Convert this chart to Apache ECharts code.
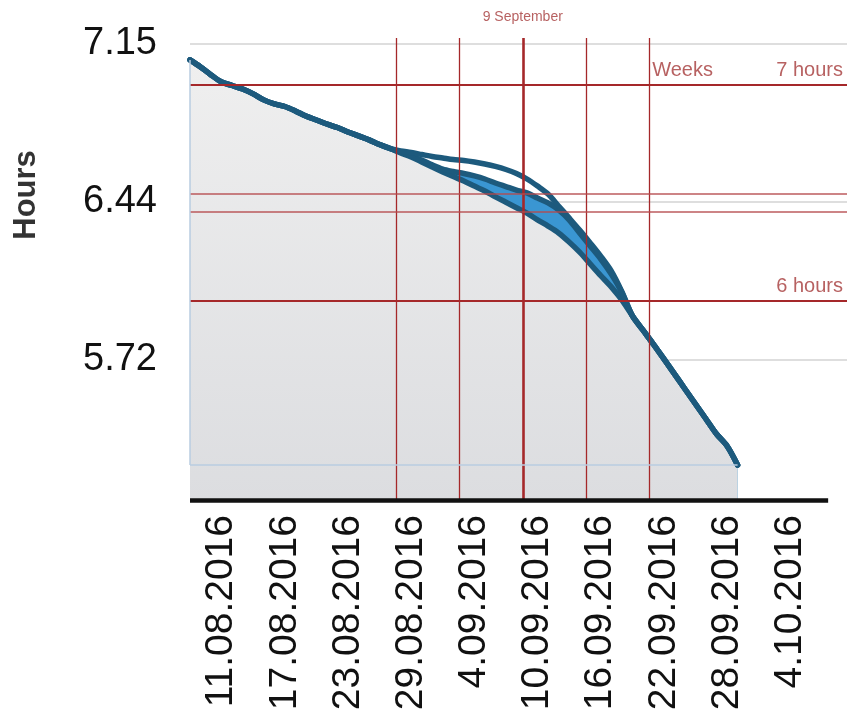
<!DOCTYPE html>
<html><head><meta charset="utf-8">
<script src="https://cdn.jsdelivr.net/npm/echarts@6/dist/echarts.min.js"></script>
<style>html,body{margin:0;padding:0;background:#fff}#c{width:847px;height:726px}</style>
</head><body><div id="c"></div>
<script>
// x values are day numbers counted from 1 Aug 2016 (day 0); data runs daily from 8.08.2016 (day 7)
const firstDay = 7;
const xTickValues = [10, 16, 22, 28, 34, 40, 46, 52, 58, 64];
const xTickLabels = ['11.08.2016','17.08.2016','23.08.2016','29.08.2016','4.09.2016','10.09.2016','16.09.2016','22.09.2016','28.09.2016','4.10.2016'];
const yTickValues = [5.72, 6.435, 7.15];
const yTickLabels = ['5.72', '6.44', '7.15'];

// days 7..26: all forecasts coincide
const sharedEarly = [7.078,7.046,7.010,6.978,6.962,6.946,6.924,6.897,6.879,6.867,6.847,6.824,6.806,6.788,6.772,6.752,6.734,6.716,6.695,6.677];
// days 27..48: forecasts diverge
const forecastA = [6.666,6.659,6.650,6.641,6.634,6.627,6.623,6.616,6.607,6.596,6.582,6.564,6.539,6.507,6.471,6.417,6.363,6.308,6.250,6.190,6.123,6.030];
const forecastB = [6.661,6.643,6.625,6.603,6.584,6.573,6.564,6.553,6.539,6.521,6.505,6.489,6.476,6.453,6.431,6.399,6.354,6.295,6.236,6.177,6.109,6.027];
const forecastD = [6.657,6.639,6.616,6.593,6.571,6.550,6.530,6.507,6.485,6.458,6.434,6.409,6.385,6.354,6.326,6.295,6.254,6.208,6.155,6.102,6.051,5.992];
// days 49..59: forecasts coincide again
const sharedLate = [5.921,5.856,5.792,5.725,5.657,5.589,5.521,5.453,5.385,5.331,5.245];

// reference lines
const weekLineDays = [26.6, 32.6, 38.6, 44.6, 50.6];   // 38.6 = 9 September
const septemberDay = 38.6;
const hourLineValues = [6.964, 5.987];                 // '7 hours', '6 hours'
const hourLineLabels = ['7 hours', '6 hours'];
const thinLineValues = [6.471, 6.390];

const X_MIN = 7, X_MAX = 69.39, Y_MIN = 5.0866, Y_MAX = 7.177, AXIS_END = 67.6;

function build(part) {
  return sharedEarly.concat(part, sharedLate).map((v, i) => [firstDay + i, v]);
}
const lastDay = firstDay + sharedEarly.length + forecastD.length + sharedLate.length - 1;
const lastVal = sharedLate[sharedLate.length - 1];

const RED = '#a5282a', TXT_RED = '#a53a3a', DARK = '#1d5a7d', LIGHT = '#3a96d2';
const SM = 0.3;

const markData = [];
weekLineDays.forEach(d => markData.push([
  {coord: [d, Y_MIN], lineStyle: {color: RED, width: d === septemberDay ? 2.6 : 1.3, type: 'solid'}},
  {coord: [d, Y_MAX]}
]));
hourLineValues.forEach(v => markData.push([
  {coord: [X_MIN, v], lineStyle: {color: RED, width: 2.2, type: 'solid'}},
  {coord: [X_MAX, v]}
]));
thinLineValues.forEach(v => markData.push([
  {coord: [X_MIN, v], lineStyle: {color: '#b5494b', width: 1.6, type: 'solid', opacity: 0.9}},
  {coord: [X_MAX, v]}
]));
// light outline of the area
markData.push([
  {coord: [firstDay, sharedEarly[0]], lineStyle: {color: '#b8cde0', width: 1.5, type: 'solid'}},
  {coord: [firstDay, lastVal]}
]);
markData.push([
  {coord: [firstDay, lastVal], lineStyle: {color: '#b8cde0', width: 1.5, type: 'solid'}},
  {coord: [lastDay, lastVal]}
]);
// black base axis line
markData.push([
  {coord: [X_MIN, Y_MIN], lineStyle: {color: '#111', width: 4.5, type: 'solid'}},
  {coord: [AXIS_END, Y_MIN]}
]);

const annotations = [
  {value: [septemberDay, Y_MAX], name: '9 September',
   label: {position: 'top', distance: 14, fontSize: 14, color: TXT_RED}},
  {value: [weekLineDays[4], hourLineValues[0]], name: 'Weeks',
   label: {position: 'right', distance: 3, offset: [0, -15], fontSize: 20, color: TXT_RED}},
  {value: [X_MAX, hourLineValues[0]], name: hourLineLabels[0],
   label: {position: 'left', distance: 4, offset: [0, -15], fontSize: 20, color: TXT_RED}},
  {value: [X_MAX, hourLineValues[1]], name: hourLineLabels[1],
   label: {position: 'left', distance: 4, offset: [0, -15], fontSize: 20, color: TXT_RED}},
  {value: [X_MIN, 6.467], name: 'Hours',
   label: {position: 'inside', offset: [0, -164], rotate: 90, fontSize: 31, fontWeight: 'bold', color: '#000'}}
];

const lineCommon = {type: 'line', smooth: SM, symbol: 'none', z: 3,
  lineStyle: {color: DARK, width: 5.5, cap: 'round', join: 'round'}};

const chart = echarts.init(document.getElementById('c'));
chart.setOption({
  animation: false,
  backgroundColor: '#fff',
  grid: {left: 190, right: 0, top: 38, bottom: 226, containLabel: false},
  xAxis: {
    type: 'value', min: X_MIN, max: X_MAX,
    axisLine: {show: false}, axisTick: {show: false, customValues: xTickValues},
    splitLine: {show: false},
    axisLabel: {
      customValues: xTickValues, rotate: 90, margin: 15, fontSize: 39, color: '#111',
      fontFamily: "'Liberation Sans', Arial, sans-serif",
      formatter: v => xTickLabels[xTickValues.indexOf(Math.round(v))] || ''
    }
  },
  yAxis: {
    type: 'value', min: Y_MIN, max: Y_MAX,
    axisLine: {show: false}, axisTick: {show: false, customValues: yTickValues},
    splitLine: {show: true, lineStyle: {color: '#d3d3d3', width: 1.5}},
    axisLabel: {
      customValues: yTickValues, margin: 33, fontSize: 38, color: '#111',
      fontFamily: "'Liberation Sans', Arial, sans-serif",
      formatter: v => {
        let best = 0;
        yTickValues.forEach((t, i) => { if (Math.abs(t - v) < Math.abs(yTickValues[best] - v)) best = i; });
        return yTickLabels[best];
      }
    }
  },
  series: [
    {type: 'line', name: 'band', data: build(forecastB), smooth: SM, symbol: 'none', z: 2,
     lineStyle: {width: 0, opacity: 0}, areaStyle: {origin: 'start', color: LIGHT, opacity: 1}},
    {type: 'line', name: 'area', data: build(forecastD), smooth: SM, symbol: 'none', z: 2,
     lineStyle: {width: 0, opacity: 0},
     areaStyle: {origin: 'start', opacity: 1, color: {type: 'linear', x: 0, y: 0, x2: 0, y2: 1,
       colorStops: [{offset: 0, color: '#efefef'}, {offset: 1, color: '#dcdde0'}]}}},
    Object.assign({name: 'D', data: build(forecastD)}, lineCommon),
    Object.assign({name: 'B', data: build(forecastB)}, lineCommon),
    Object.assign({name: 'A', data: build(forecastA)}, lineCommon),
    {type: 'line', data: [], clip: false, silent: true, z: 4,
     markLine: {silent: true, symbol: ['none', 'none'], label: {show: false}, animation: false, data: markData}},
    {type: 'scatter', data: annotations, symbolSize: 0, clip: false, silent: true, z: 5,
     label: {show: true, formatter: p => p.name, fontFamily: "'Liberation Sans', Arial, sans-serif"}}
  ]
});
</script></body></html>
